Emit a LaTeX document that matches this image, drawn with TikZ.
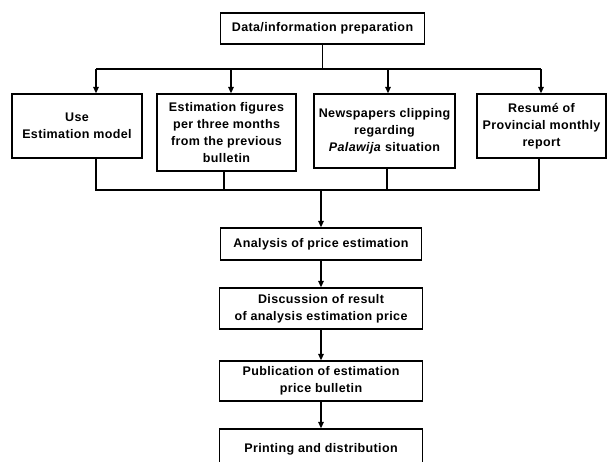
\documentclass[tikz,border=0pt]{standalone}
\usepackage{fontspec}
\setmainfont{Liberation Sans}[LetterSpace=3.0]
\usetikzlibrary{arrows.meta}
\tikzset{
  box/.style={draw, line width=1.3pt, rectangle, align=center, inner sep=0pt,
    font=\bfseries\fontsize{12.5}{17}\selectfont},
  link/.style={line width=1.5pt},
  flow/.style={link, -{Triangle[length=6.5pt,width=5.5pt]}},
}
\begin{document}
\begin{tikzpicture}[x=1pt, y=-1pt]
    \useasboundingbox (0,0) rectangle (608,461);
    \clip (0,0) rectangle (608,461);

    % 顶部
    \node[box, minimum width=204pt, minimum height=31pt] (prep) at (322.5,28.5) {Data/information preparation};
    \coordinate (fork) at (322.5,69);

    % 四个来源
    \node[box, minimum width=130pt, minimum height=64pt] (model) at (77,126) {Use\\Estimation model};
    \node[box, minimum width=139pt, minimum height=77pt] (figures) at (226.5,132.5) {Estimation figures\\per three months\\from the previous\\bulletin};
    \node[box, minimum width=141pt, minimum height=74pt] (clip) at (384.5,131) {Newspapers clipping\\regarding\\\textit{Palawija} situation};
    \node[box, minimum width=129pt, minimum height=64pt] (resume) at (541.5,126) {Resum\'e of\\Provincial monthly\\report};

    % 分支
    \draw[link] (prep.south) -- (fork);
    \draw[link] ([xshift=19pt]model.north |- fork) -- ([xshift=-0.5pt]resume.north |- fork);
    \draw[flow] ([xshift=19pt]model.north |- fork) -- ([xshift=19pt]model.north);
    \draw[flow] ([xshift=4.5pt]figures.north |- fork) -- ([xshift=4.5pt]figures.north);
    \draw[flow] ([xshift=3.5pt]clip.north |- fork) -- ([xshift=3.5pt]clip.north);
    \draw[flow] ([xshift=-0.5pt]resume.north |- fork) -- ([xshift=-0.5pt]resume.north);

    % 汇合
    \coordinate (join) at (321,190);
    \draw[link] ([xshift=19pt]model.south) |- ([xshift=-2.5pt]resume.south |- join) -- ([xshift=-2.5pt]resume.south);
    \draw[link] ([xshift=-2.5pt]figures.south) -- ([xshift=-2.5pt]figures.south |- join);
    \draw[link] ([xshift=2.5pt]clip.south) -- ([xshift=2.5pt]clip.south |- join);

    % 主流程
    \node[box, minimum width=201pt, minimum height=32pt] (analysis) at (321,244) {Analysis of price estimation};
    \node[box, minimum width=203pt, minimum height=41pt] (discuss) at (321,308.5) {Discussion of result\\of analysis estimation price};
    \node[box, minimum width=203pt, minimum height=40pt] (publish) at (321,381) {Publication of estimation\\price bulletin};
    \node[box, minimum width=203pt, minimum height=41pt] (print) at (321,449.5) {Printing and distribution};

    \draw[flow] (join) -- (join |- analysis.north);
    \draw[flow] (analysis) -- (discuss);
    \draw[flow] (discuss) -- (publish);
    \draw[flow] (publish) -- (print);
\end{tikzpicture}
\end{document}
